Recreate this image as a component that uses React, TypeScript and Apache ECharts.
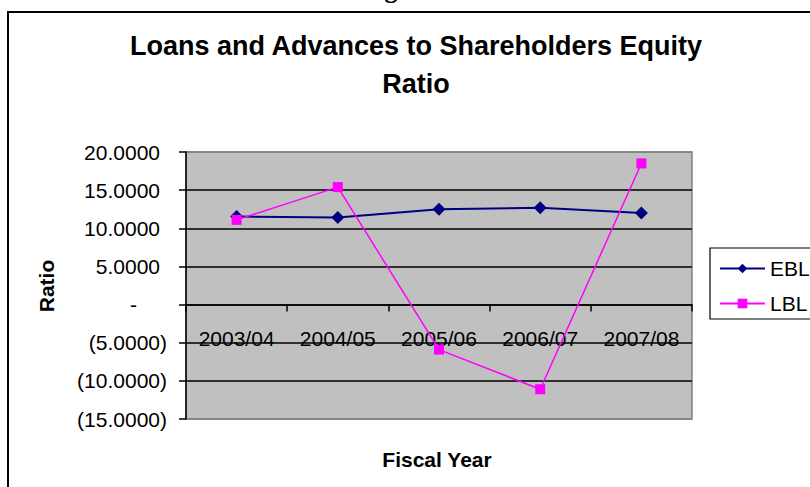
import React, { useEffect, useRef } from "react";
import * as echarts from "echarts";

const categories = ["2003/04", "2004/05", "2005/06", "2006/07", "2007/08"];
const eblValues = [11.55, 11.4, 12.5, 12.7, 12.0];
const lblValues = [11.1, 15.4, -5.9, -11.1, 18.5];
const seriesNames = ["EBL", "LBL"];
const yMin = -15;
const yMax = 20;
const yStep = 5;
const titleLines = ["Loans and Advances to Shareholders Equity", "Ratio"];
const xTitle = "Fiscal Year";
const yTitle = "Ratio";

const FONT = 'Arial, "Liberation Sans", sans-serif';

const GRID_TOP = 152;
const GRID_H = 267;

function fmt(v: number): string {
  if (v === 0) return "{z|-}";
  const s = Math.abs(v).toFixed(4);
  return v < 0 ? "{n|(" + s + ")}" : "{p|" + s + "}";
}

export default function App() {
  const ref = useRef<HTMLDivElement>(null);
  useEffect(() => {
    if (!ref.current) return;
    const chart = echarts.init(ref.current, null, { renderer: "svg" });
    const base = { fontSize: 21, color: "#000", fontFamily: FONT };
    // distance from grid bottom to the zero line, so the category axis sits on zero
    const zeroOffset = (GRID_H * (0 - yMin)) / (yMax - yMin);
    chart.setOption({
      animation: false,
      backgroundColor: "#fff",
      grid: {
        left: 186,
        top: GRID_TOP,
        width: 506,
        height: GRID_H,
        show: true,
        backgroundColor: "#C0C0C0",
        borderColor: "#808080",
        borderWidth: 1.5,
        containLabel: false,
      },
      legend: {
        orient: "vertical",
        left: 710,
        top: 248,
        padding: [10, 10, 5, 9],
        itemGap: 14,
        itemWidth: 45,
        itemHeight: 12,
        borderColor: "#000",
        borderWidth: 1.2,
        backgroundColor: "#fff",
        textStyle: { fontSize: 21, color: "#000", fontFamily: FONT },
        data: seriesNames,
      },
      xAxis: {
        type: "category",
        data: categories,
        position: "bottom",
        offset: -zeroOffset,
        boundaryGap: true,
        axisLine: { onZero: false, lineStyle: { color: "#000", width: 1.5 } },
        axisTick: { show: true, inside: false, length: 7, alignWithLabel: false, lineStyle: { color: "#000", width: 1.5 } },
        axisLabel: { ...base, margin: 23, interval: 0 },
        splitLine: { show: false },
      },
      yAxis: {
        type: "value",
        min: yMin,
        max: yMax,
        interval: yStep,
        axisLine: { show: true, lineStyle: { color: "#000", width: 1.5 } },
        axisTick: { show: true, length: 7, lineStyle: { color: "#000", width: 1.5 } },
        axisLabel: {
          margin: 19,
          formatter: (v: number) => fmt(v),
          rich: {
            p: { ...base, padding: [0, 7, 0, 0] },
            n: { ...base },
            z: { ...base, padding: [0, 30, 0, 0] },
          },
        },
        splitLine: {
          show: true,
          lineStyle: {
            color: ["#808080", "#000", "#000", "#000", "#000", "#000", "#000", "#808080"],
            width: 1.5,
          },
        },
      },
      series: [
        {
          name: seriesNames[0],
          type: "line",
          data: eblValues,
          symbol: "diamond",
          symbolSize: 13,
          lineStyle: { color: "#000080", width: 2 },
          itemStyle: { color: "#000080" },
          z: 2,
        },
        {
          name: seriesNames[1],
          type: "line",
          data: lblValues,
          symbol: "rect",
          symbolSize: 10,
          lineStyle: { color: "#FF00FF", width: 1.5 },
          itemStyle: { color: "#FF00FF" },
          z: 3,
        },
      ],
      graphic: [
        {
          type: "rect",
          shape: { x: 8, y: 12, width: 1000, height: 1000 },
          style: { fill: "none", stroke: "#000", lineWidth: 2 },
          silent: true,
        },
        {
          type: "text",
          x: 391,
          y: -10.6,
          style: { text: "g", font: 'bold 26px "Liberation Serif", serif', fill: "#000", align: "center", verticalAlign: "middle" },
        },
        {
          type: "text",
          x: 416,
          y: 46,
          style: { text: titleLines[0], font: "bold 27px " + FONT, fill: "#000", align: "center", verticalAlign: "middle" },
        },
        {
          type: "text",
          x: 416,
          y: 84,
          style: { text: titleLines[1], font: "bold 27px " + FONT, fill: "#000", align: "center", verticalAlign: "middle" },
        },
        {
          type: "text",
          x: 437,
          y: 459,
          style: { text: xTitle, font: "bold 21px " + FONT, fill: "#000", align: "center", verticalAlign: "middle" },
        },
        {
          type: "text",
          x: 46,
          y: 286,
          rotation: Math.PI / 2,
          style: { text: yTitle, font: "bold 21px " + FONT, fill: "#000", align: "center", verticalAlign: "middle" },
        },
      ],
    });
    return () => chart.dispose();
  }, []);
  return (
    <div
      ref={ref}
      style={{ position: "fixed", left: 0, top: 0, width: 810, height: 487 }}
    />
  );
}
